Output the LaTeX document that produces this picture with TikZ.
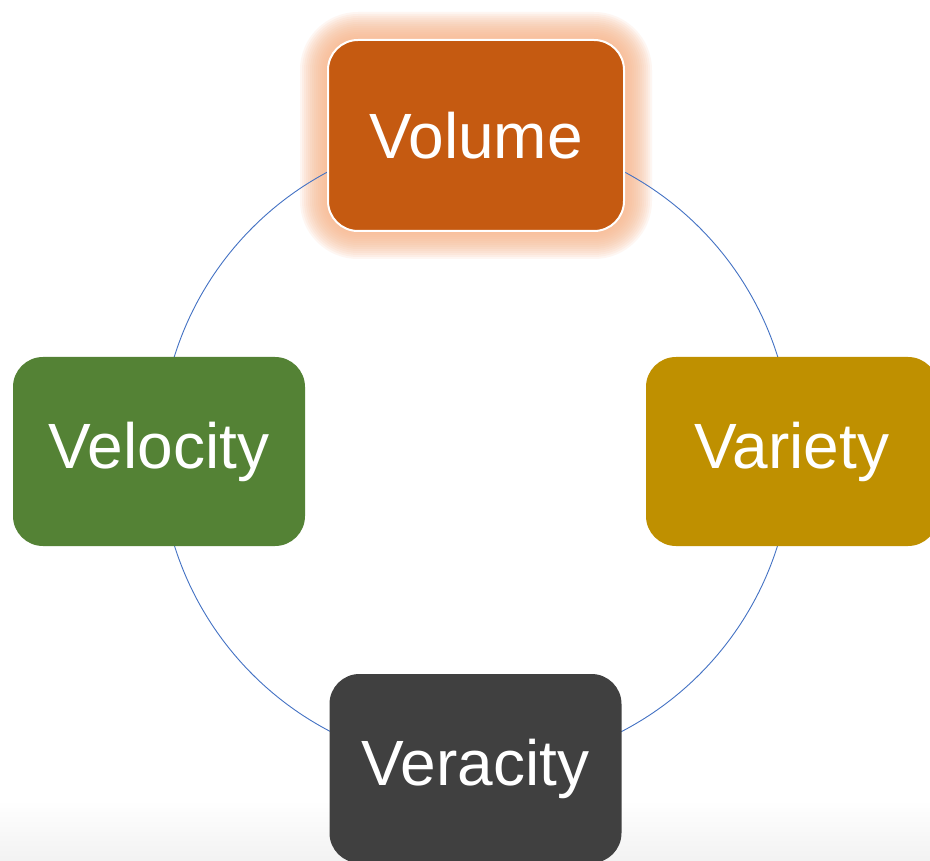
\documentclass[tikz,border=0pt]{standalone}
\usepackage{fontspec}
\setmainfont{Liberation Sans}
\usetikzlibrary{backgrounds}
\definecolor{cvol}{HTML}{C55A11}
\definecolor{cvel}{HTML}{548235}
\definecolor{cvar}{HTML}{BF9000}
\definecolor{cver}{HTML}{404040}
\definecolor{cring}{HTML}{4472C4}
\definecolor{cglow}{HTML}{F8B58A}
\tikzset{
  vbox/.style={rectangle, rounded corners=30pt, minimum width=292pt, minimum height=189pt,
    text=white, inner sep=0pt, font=\fontsize{64}{70}\selectfont},
  ring/.style={draw=cring, line width=0.9pt}
}
\begin{document}
\begin{tikzpicture}[x=1pt,y=-1pt]
\useasboundingbox (0,0) rectangle (930,861);
\coordinate (c) at (476,451);
\node[vbox, fill=cvol, draw=white, line width=2pt, minimum width=296pt, minimum height=191pt] (vol) at (476,135.5) {Volume};
\node[vbox, fill=cvel] (vel) at (159,451.5) {Velocity};
\node[vbox, fill=cvar] (var) at (792,451.5) {Variety};
\node[vbox, fill=cver] (ver) at (475.5,768.5) {Veracity};
\begin{scope}[on background layer]
  \fill[white] (0,0) rectangle (930,861);
  \shade[top color=white, bottom color=black!5] (0,800) rectangle (930,861);
  \foreach \i in {1,...,14}{
    \fill[cglow, opacity=0.11, rounded corners={30+2*\i}] (328-2*\i,40-2*\i) rectangle (624+2*\i,231+2*\i);
  }
  \draw[ring] (c) circle[radius=316pt];
\end{scope}
\end{tikzpicture}
\end{document}
